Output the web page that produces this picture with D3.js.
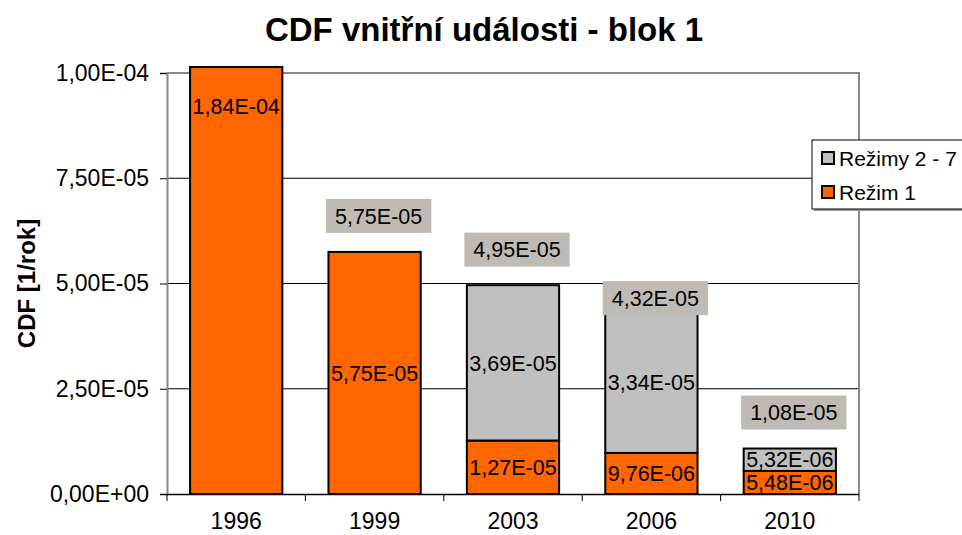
<!DOCTYPE html>
<html>
<head>
<meta charset="utf-8">
<script src="https://cdn.jsdelivr.net/npm/d3@7"></script>
<style>
  html, body { margin: 0; padding: 0; background: #fff; }
  svg { display: block; font-family: "Liberation Sans", Arial, sans-serif; }
</style>
</head>
<body>
<svg id="chart" width="962" height="535"></svg>
<script>
// ---- data ----
const title = "CDF vnitřní události - blok 1";
const yAxisTitle = "CDF [1/rok]";
const categories = ["1996", "1999", "2003", "2006", "2010"];
const seriesNames = ["Režim 1", "Režimy 2 - 7"];
const rezim1 = [1.84e-4, 5.75e-5, 1.27e-5, 9.76e-6, 5.48e-6];
const rezimy27 = [0, 0, 3.69e-5, 3.34e-5, 5.32e-6];
const totals = [null, 5.75e-5, 4.95e-5, 4.32e-5, 1.08e-5];
const yTicks = [0, 2.5e-5, 5e-5, 7.5e-5, 1e-4];

// ---- layout ----
const W = 962, H = 535;
const plot = { left: 167, right: 859, top: 73, bottom: 494 };
const colors = { "Režim 1": "#ff6600", "Režimy 2 - 7": "#c0c0c0" };
const labelBoxFill = "#bfbbb4";
const labelLift = { "2006": 14 }; // manually moved label in the original
const defaultLift = 36;
const FONT = "Liberation Sans, Arial, sans-serif";

const svg = d3.select("#chart");

function fmt(v) {
  const [m, e] = v.toExponential(2).split("e");
  const sign = e[0] === "-" ? "-" : "+";
  const ex = Math.abs(+e).toString().padStart(2, "0");
  return m.replace(".", ",") + "E" + sign + ex;
}

const x = d3.scaleBand().domain(categories).range([plot.left, plot.right])
  .paddingInner(1/3).paddingOuter(1/6);
const yMax = 1e-4;
const y = d3.scaleLinear().domain([0, yMax]).range([plot.bottom, plot.top]);

// title
svg.append("text").attr("x", W / 2 + 3).attr("y", 41).attr("text-anchor", "middle")
  .attr("font-size", 33).attr("font-weight", "bold").text(title);

// y axis title
svg.append("text")
  .attr("transform", `translate(35,${(plot.top + plot.bottom) / 2}) rotate(-90)`)
  .attr("text-anchor", "middle").attr("font-size", 24).attr("font-weight", "bold")
  .text(yAxisTitle);

// gridlines
svg.append("g").selectAll("line").data(yTicks.filter(t => t > 0 && t < yMax)).join("line")
  .attr("x1", plot.left).attr("x2", plot.right)
  .attr("y1", d => y(d)).attr("y2", d => y(d))
  .attr("stroke", "#000").attr("stroke-width", 1);

// plot border (top/right)
svg.append("path")
  .attr("d", `M${plot.left},${plot.top}H${plot.right}V${plot.bottom}`)
  .attr("fill", "none").attr("stroke", "#888").attr("stroke-width", 2);

// stacked data
const rows = categories.map((c, i) => ({ cat: c, "Režim 1": rezim1[i], "Režimy 2 - 7": rezimy27[i] }));
const stack = d3.stack().keys(seriesNames)(rows);

const clipTop = plot.top - 6;
const gBars = svg.append("g");
stack.forEach(layer => {
  const key = layer.key;
  layer.forEach((d, i) => {
    const val = d[1] - d[0];
    if (!val) return;
    const y0 = y(d[0]);
    const clipped = d[1] > yMax;
    const y1 = clipped ? clipTop : y(d[1]);
    const bx = x(d.data.cat);
    gBars.append("rect")
      .attr("x", bx).attr("y", y1)
      .attr("width", x.bandwidth()).attr("height", y0 - y1)
      .attr("fill", colors[key]).attr("stroke", "#000").attr("stroke-width", 2);
    const ly = clipped ? y(yMax) + 33 : (y0 + y1) / 2;
    gBars.append("text")
      .attr("x", bx + x.bandwidth() / 2).attr("y", ly)
      .attr("dy", "0.36em").attr("text-anchor", "middle")
      .attr("font-size", 21.5).text(fmt(val));
  });
});

// axes
const yAxis = d3.axisLeft(y).tickValues(yTicks).tickFormat(fmt).tickSize(7).tickPadding(11);
const gy = svg.append("g").attr("transform", `translate(${plot.left},0)`).call(yAxis);
gy.select(".domain").attr("stroke", "#888").attr("stroke-width", 2);
gy.selectAll(".tick line").attr("stroke", "#000");
gy.selectAll(".tick text").attr("font-size", 23).attr("fill", "#000")
  .attr("font-family", FONT);

const xAxis = d3.axisBottom(x).tickSize(0).tickPadding(19);
const gx = svg.append("g").attr("transform", `translate(0,${plot.bottom})`).call(xAxis);
gx.select(".domain").attr("stroke", "#000").attr("stroke-width", 1.5)
  .attr("d", `M${plot.left},0.5H${plot.right}`);
gx.selectAll(".tick text").attr("font-size", 23).attr("fill", "#000")
  .attr("font-family", FONT);
// category boundary ticks
const bounds = categories.map(c => x(c) - x.step() * x.paddingOuter()).concat([plot.right]);
svg.append("g").selectAll("line").data(bounds).join("line")
  .attr("x1", d => d).attr("x2", d => d)
  .attr("y1", plot.bottom).attr("y2", plot.bottom + 7)
  .attr("stroke", "#000").attr("stroke-width", 1);

// total labels
const gTot = svg.append("g");
totals.forEach((t, i) => {
  if (t == null) return;
  const c = categories[i];
  const cx = x(c) + x.bandwidth() / 2 + 4;
  const cy = y(t) - (labelLift[c] != null ? labelLift[c] : defaultLift);
  const txt = gTot.append("text").attr("x", cx).attr("y", cy).attr("dy", "0.36em")
    .attr("text-anchor", "middle").attr("font-size", 21.5).text(fmt(t));
  const bb = txt.node().getBBox();
  gTot.insert("rect", "text")
    .attr("x", cx - bb.width / 2 - 9).attr("y", cy - 17)
    .attr("width", bb.width + 18).attr("height", 34)
    .attr("fill", labelBoxFill);
});

// legend
const lg = svg.append("g").attr("transform", "translate(812,140)");
lg.append("rect").attr("x", 2).attr("y", 2).attr("width", 160).attr("height", 69).attr("fill", "#999");
lg.append("rect").attr("x", 0).attr("y", 0).attr("width", 160).attr("height", 69)
  .attr("fill", "#fff").attr("stroke", "#000").attr("stroke-width", 1);
const legendItems = seriesNames.slice().reverse();
legendItems.forEach((name, i) => {
  const cy = 18 + i * 34;
  lg.append("rect").attr("x", 10).attr("y", cy - 6).attr("width", 12).attr("height", 12)
    .attr("fill", colors[name]).attr("stroke", "#000").attr("stroke-width", 2);
  lg.append("text").attr("x", 27).attr("y", cy).attr("dy", "0.36em")
    .attr("font-size", 21).text(name);
});
</script>
</body>
</html>
